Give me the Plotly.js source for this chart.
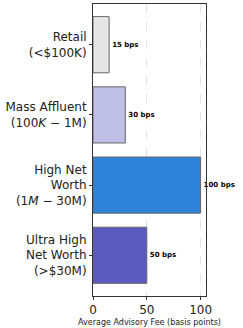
<!DOCTYPE html>
<html><head><meta charset="utf-8">
<script src="https://cdn.plot.ly/plotly-3.0.1.min.js"></script>
<style>html,body{margin:0;padding:0;background:#fff;}#c{width:243px;height:328px;}</style>
</head><body><div id="c"></div>
<script>
const categories = ["Retail<br>(<$100K)", "Mass Affluent<br>(100<i>K</i> − 1M)", "High Net<br>Worth<br>(1<i>M</i> − 30M)", "Ultra High<br>Net Worth<br>(>$30M)"];
const fees = [15, 30, 100, 50];
const colors = ["#e6e6e6", "#c0bfe8", "#2e83d8", "#5b5bbf"];
const xTickVals = [0, 50, 100];

const trace = {
  type: 'bar', orientation: 'h',
  x: fees, y: categories,
  width: 0.8,
  marker: {color: colors, line: {color: '#666666', width: 1}},
  texttemplate: '%{x} bps', textposition: 'outside',
  textfont: {family: 'DejaVu Sans', size: 7, color: '#000', weight: 'bold'},
  cliponaxis: false, hoverinfo: 'none'
};
const layout = {
  width: 243, height: 328,
  margin: {l: 93, r: 37, t: 4, b: 32},
  paper_bgcolor: '#fff', plot_bgcolor: '#fff',
  showlegend: false,
  font: {family: 'DejaVu Sans', color: '#222'},
  xaxis: {
    range: [0, 105], tickvals: xTickVals, ticks: 'outside', ticklen: 3, tickcolor: '#333',
    tickfont: {size: 12, color: '#222'},
    showgrid: true, gridcolor: '#e4e4e4', griddash: 'dash', gridwidth: 1,
    zeroline: false, showline: true, linecolor: '#333', linewidth: 1, mirror: true,
    title: {text: 'Average Advisory Fee (basis points)', font: {size: 8, color: '#222'}, standoff: 2}
  },
  yaxis: {
    categoryorder: 'array', categoryarray: categories,
    range: [3.58, -0.58],
    ticks: 'outside', ticklen: 3, tickcolor: '#333',
    tickfont: {size: 12, color: '#222'},
    showgrid: false, zeroline: false, showline: true, linecolor: '#333', linewidth: 1, mirror: true
  }
};
Plotly.newPlot('c', [trace], layout, {staticPlot: true, displayModeBar: false});
</script></body></html>
